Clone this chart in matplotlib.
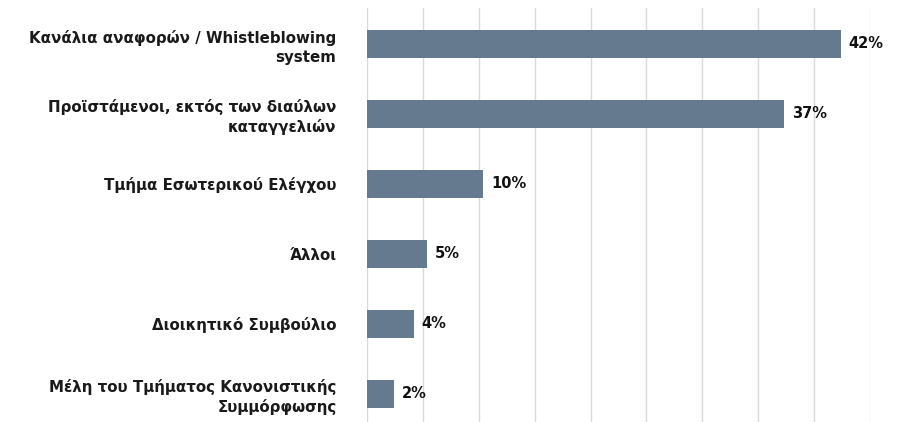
import matplotlib.pyplot as plt

plt.rcParams['font.family'] = ['DejaVu Sans']

categories = ['Κανάλια αναφορών / Whistleblowing\nsystem',
              'Προϊστάμενοι, εκτός των διαύλων\nκαταγγελιών',
              'Τμήμα Εσωτερικού Ελέγχου',
              'Άλλοι',
              'Διοικητικό Συμβούλιο',
              'Μέλη του Τμήματος Κανονιστικής\nΣυμμόρφωσης']
# bar lengths (labels show the rounded figures)
values = [42.4, 37.3, 10.4, 5.4, 4.2, 2.4]
value_labels = ['42%', '37%', '10%', '5%', '4%', '2%']

fig = plt.figure(figsize=(9.17, 4.22), dpi=100)
ax = fig.add_axes([367 / 917, 0, (870 - 367) / 917, (422 - 8) / 422])

pos = list(range(len(categories)))
ax.barh(pos, values, height=0.4, color='#657A8F', zorder=3)
for p, v, t in zip(pos, values, value_labels):
    ax.text(v + 0.7, p, t, va='center', ha='left', fontsize=10.5,
            fontweight='bold', color='#111111', zorder=4)

ax.set_xlim(0, 45)
ax.set_ylim(5.4, -0.514)
ax.set_xticks(range(0, 46, 5))
ax.set_xticklabels([])
ax.tick_params(axis='x', length=0)
ax.set_yticks(pos)
ax.set_yticklabels(categories, fontsize=10.8, fontweight='bold', color='#1a1a1a',
                   ha='right', linespacing=1.3)
ax.tick_params(axis='y', length=0, pad=22)
ax.grid(axis='x', color='#d9d9d9', linewidth=1, zorder=0)
for s in ax.spines.values():
    s.set_visible(False)

fig.savefig('out.png', dpi=100)
